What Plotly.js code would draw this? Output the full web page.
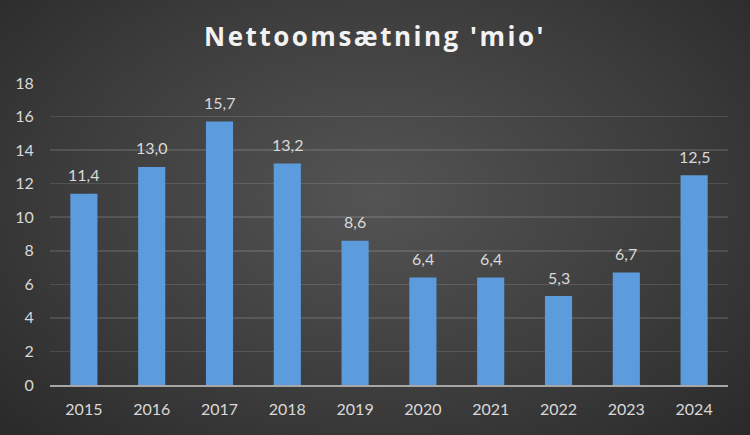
<!DOCTYPE html>
<html>
<head>
<meta charset="utf-8">
<script src="https://cdn.plot.ly/plotly-3.0.1.min.js"></script>
<style>
  html, body { margin: 0; padding: 0; }
  #chart {
    width: 750px; height: 435px;
    background: radial-gradient(ellipse 75% 85% at 50% 45%, #545454 0%, #3c3c3c 55%, #262626 100%);
  }
  .gtitle { letter-spacing: 2.5px; }
</style>
</head>
<body>
<div id="chart"></div>
<script>
const years = ['2015','2016','2017','2018','2019','2020','2021','2022','2023','2024'];
const values = [11.4, 13.0, 15.7, 13.2, 8.6, 6.4, 6.4, 5.3, 6.7, 12.5];
const yTicks = [0, 2, 4, 6, 8, 10, 12, 14, 16, 18];

const labelFont = { family: 'Lato, "Open Sans", sans-serif', size: 16, color: '#d9d9d9' };

const trace = {
  type: 'bar',
  x: years,
  y: values,
  width: 0.4,
  marker: { color: '#5d9cdc', line: { width: 0 } },
  hoverinfo: 'skip'
};

// category index positions for the labels
const annotations = years.map((yr, i) => ({
  x: i,
  y: values[i],
  xref: 'x', yref: 'y',
  text: values[i].toFixed(1).replace('.', ','),
  showarrow: false,
  yanchor: 'middle',
  yshift: 19,
  font: labelFont
}));

const layout = {
  width: 750, height: 435,
  margin: { l: 50, r: 22, t: 83, b: 50 },
  paper_bgcolor: 'rgba(0,0,0,0)',
  plot_bgcolor: 'rgba(0,0,0,0)',
  separators: ',.',
  showlegend: false,
  annotations: annotations,
  title: {
    text: "<b>Nettoomsætning 'mio'</b>",
    font: { family: '"Open Sans", Lato, sans-serif', size: 26, color: '#f2f2f2' },
    x: 0.5, xanchor: 'center',
    y: 0.915, yanchor: 'middle'
  },
  xaxis: {
    type: 'category',
    categoryarray: years,
    range: [-0.5, years.length - 0.5],
    tickfont: labelFont,
    showgrid: false,
    showline: true, linecolor: '#a6a6a6', linewidth: 2,
    ticks: 'outside', ticklen: 9, tickcolor: 'rgba(0,0,0,0)',
    fixedrange: true
  },
  yaxis: {
    range: [0, 18],
    tickvals: yTicks,
    ticktext: yTicks.map(String),
    tickfont: labelFont,
    showgrid: true, gridcolor: 'rgba(255,255,255,0.12)', gridwidth: 1.5,
    zeroline: false, showline: false,
    ticks: 'outside', ticklen: 12, tickcolor: 'rgba(0,0,0,0)',
    fixedrange: true
  },
  bargap: 0.6
};

Plotly.newPlot('chart', [trace], layout, { displayModeBar: false, staticPlot: true });
</script>
</body>
</html>
